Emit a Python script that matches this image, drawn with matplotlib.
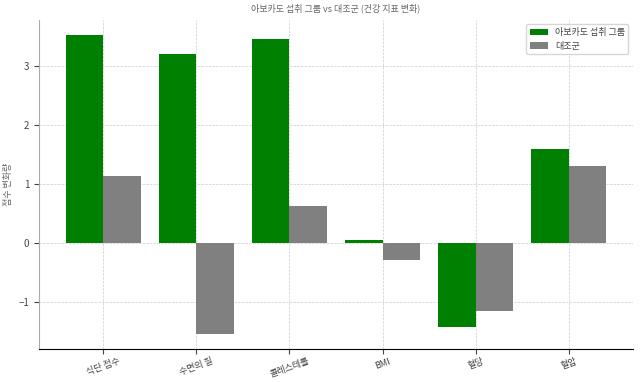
import numpy as np
import matplotlib
matplotlib.use("Agg")
import matplotlib.pyplot as plt

plt.rcParams['font.family'] = ['Noto Sans CJK KR', 'DejaVu Sans']
plt.rcParams['axes.unicode_minus'] = True

# data
categories = ["식단 점수", "수면의 질", "콜레스테롤", "BMI", "혈당", "혈압"]
avocado = [3.53, 3.20, 3.46, 0.05, -1.42, 1.59]
control = [1.14, -1.54, 0.63, -0.29, -1.15, 1.31]

x = np.arange(len(categories))
width = 0.4

fig, ax = plt.subplots(figsize=(6.4, 3.82), dpi=100)
ax.bar(x - width / 2, avocado, width, color="green", label="아보카도 섭취 그룹")
ax.bar(x + width / 2, control, width, color="gray", label="대조군")

ax.set_xticks(x)
ax.set_xticklabels(categories, rotation=20, fontsize=6.5, color="#444444")
ax.tick_params(axis="y", labelsize=7, colors="#444444")
ax.tick_params(axis="x", colors="#444444", pad=2)
ax.set_ylabel("점수 변화량", fontsize=6.5, color="#666666")
ax.set_title("아보카도 섭취 그룹 vs 대조군 (건강 지표 변화)", fontsize=6.5, color="#666666")
ax.grid(True, linestyle="--", linewidth=0.5, color="#cccccc")
ax.set_axisbelow(True)
for s in ["top", "right"]:
    ax.spines[s].set_visible(False)
ax.spines["left"].set_color("#aaaaaa")
ax.spines["bottom"].set_color("black")
ax.legend(fontsize=6.5, loc="upper right", labelcolor="#444444")

fig.subplots_adjust(left=0.061, right=0.989, bottom=0.086, top=0.948)
plt.savefig("out.png", dpi=100)
